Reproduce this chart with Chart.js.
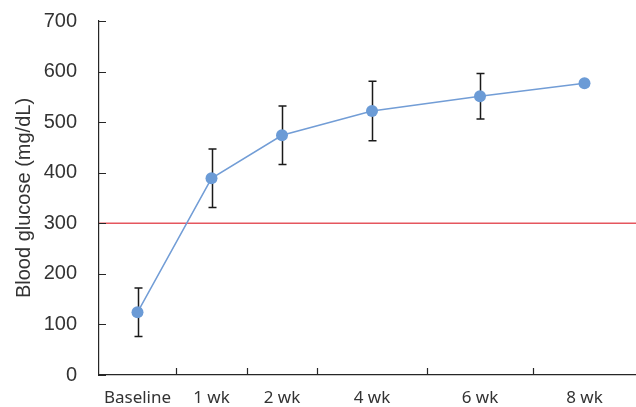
<!DOCTYPE html>
<html>
<head>
<meta charset="utf-8">
<script src="https://cdn.jsdelivr.net/npm/chart.js@4"></script>
<style>
  html, body { margin: 0; padding: 0; background: #fff; overflow: hidden; }
  #wrap { width: 636px; height: 407px; position: relative; }
  canvas { display: block; }
</style>
</head>
<body>
<div id="wrap"><canvas id="c"></canvas></div>
<script>
const categories = ['Baseline', '1 wk', '2 wk', '4 wk', '6 wk', '8 wk'];
const glucoseMean = [124, 389, 474, 522, 551, 577];
const glucoseSD = [48, 58, 58, 59, 45, 0];
const yTicks = [0, 100, 200, 300, 400, 500, 600, 700];
const threshold = 300;

// the x axis has uneven column widths
const slotWidths = [77, 71, 70, 110, 106, 103];
const edges = [0];
slotWidths.forEach((w) => edges.push(edges[edges.length - 1] + w));
const centers = slotWidths.map((w, i) => edges[i] + w / 2);

const axisColor = '#262626';
const textColor = '#333333';
const noPadding = () => ({ left: 0, right: 0, top: 0, bottom: 0 });

const extras = {
  id: 'extras',
  beforeDatasetsDraw(chart) {
    const { ctx, scales: { x, y } } = chart;
    ctx.save();
    ctx.strokeStyle = '#1a1a1a';
    ctx.lineWidth = 1.5;
    glucoseMean.forEach((m, i) => {
      const sd = glucoseSD[i];
      if (!sd) return;
      const px = Math.round(x.getPixelForValue(centers[i])) + 0.5;
      const top = y.getPixelForValue(m + sd);
      const bot = y.getPixelForValue(m - sd);
      ctx.beginPath();
      ctx.moveTo(px, top); ctx.lineTo(px, bot);
      ctx.moveTo(px - 4, top); ctx.lineTo(px + 4, top);
      ctx.moveTo(px - 4, bot); ctx.lineTo(px + 4, bot);
      ctx.stroke();
    });
    ctx.restore();
  },
  afterDraw(chart) {
    const { ctx, scales: { x, y }, chartArea } = chart;
    ctx.save();
    ctx.strokeStyle = axisColor;
    ctx.lineWidth = 1.2;
    ctx.beginPath();
    yTicks.forEach((v) => {
      const py = Math.round(y.getPixelForValue(v)) + 0.5;
      ctx.moveTo(chartArea.left, py);
      ctx.lineTo(chartArea.left + 7, py);
    });
    edges.slice(1, -1).forEach((v) => {
      const px = Math.round(x.getPixelForValue(v)) + 0.5;
      ctx.moveTo(px, chartArea.bottom);
      ctx.lineTo(px, chartArea.bottom - 7);
    });
    ctx.stroke();
    ctx.restore();
  }
};

new Chart(document.getElementById('c'), {
  type: 'line',
  data: {
    datasets: [
      {
        label: 'Blood glucose',
        data: glucoseMean.map((m, i) => ({ x: centers[i], y: m })),
        borderColor: '#729dd6',
        backgroundColor: '#6b9bd6',
        borderWidth: 1.5,
        pointRadius: 6,
        pointBorderWidth: 0,
        pointBackgroundColor: '#6b9bd6',
        tension: 0
      },
      {
        label: 'Threshold',
        data: [{ x: edges[0], y: threshold }, { x: edges[edges.length - 1], y: threshold }],
        borderColor: '#e5565e',
        borderWidth: 1.5,
        pointRadius: 0
      }
    ]
  },
  options: {
    responsive: true,
    maintainAspectRatio: false,
    animation: false,
    layout: { autoPadding: false, padding: { top: 21, right: 0, bottom: 0, left: 0 } },
    plugins: {
      legend: { display: false },
      tooltip: { enabled: false }
    },
    scales: {
      x: {
        type: 'linear',
        min: edges[0],
        max: edges[edges.length - 1],
        grid: { display: false },
        border: { display: true, color: axisColor, width: 1.2 },
        afterBuildTicks: (axis) => { axis.ticks = centers.map((v) => ({ value: v })); },
        afterFit: (scale) => {
          scale.height = 32;
          scale.paddingLeft = 0;
          scale.paddingRight = 0;
          scale.getPadding = noPadding;
        },
        ticks: {
          autoSkip: false,
          maxRotation: 0,
          padding: 5,
          color: textColor,
          font: { family: 'Noto Sans', size: 17 },
          callback: (value, index) => categories[index]
        }
      },
      y: {
        min: 0,
        max: 700,
        grid: { display: false },
        border: { display: true, color: axisColor, width: 1.2 },
        afterBuildTicks: (axis) => { axis.ticks = yTicks.map((v) => ({ value: v })); },
        afterFit: (scale) => {
          scale.width = 99;
          scale.paddingTop = 0;
          scale.paddingBottom = 0;
          scale.getPadding = noPadding;
        },
        ticks: {
          padding: 14,
          color: textColor,
          font: { family: 'Liberation Sans', size: 20 }
        },
        title: {
          display: true,
          text: 'Blood glucose (mg/dL)',
          color: textColor,
          font: { family: 'Liberation Sans', size: 20 },
          padding: { top: 12, bottom: 0 }
        }
      }
    }
  },
  plugins: [extras]
});
</script>
</body>
</html>
